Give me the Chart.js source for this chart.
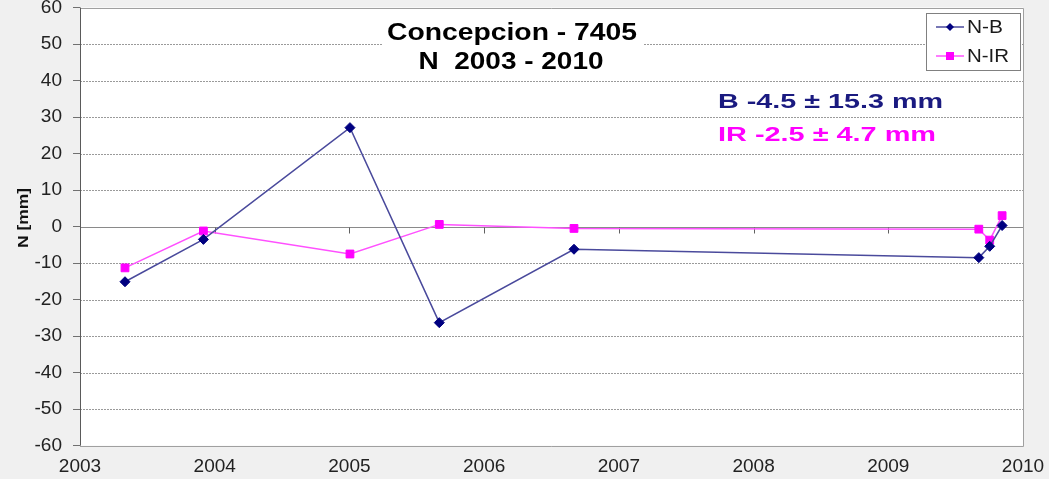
<!DOCTYPE html>
<html><head><meta charset="utf-8">
<script src="https://cdn.jsdelivr.net/npm/chart.js@4.4.1/dist/chart.umd.min.js"></script>
<style>html,body{margin:0;padding:0;background:#f0f0f0;overflow:hidden}#wrap{width:1049px;height:479px;position:relative}</style>
</head><body><div id="wrap"><canvas id="c" width="1049" height="479"></canvas></div>
<script>
// ---- data ----
const years = [2003.334, 2003.916, 2005.004, 2005.667, 2006.667, 2009.672, 2009.753, 2009.845];
const nB    = [-15.1, -3.5, 27.1, -26.3, -6.2, -8.5, -5.4, 0.3];
const nIR   = [-11.3, -1.2, -7.5, 0.6, -0.5, -0.7, -3.7, 3.0];
const xTicks = [2003, 2004, 2005, 2006, 2007, 2008, 2009, 2010];
const yTicks = [-60, -50, -40, -30, -20, -10, 0, 10, 20, 30, 40, 50, 60];
const seriesNames = ['N-B', 'N-IR'];
const titleLines = ['Concepcion - 7405', 'N  2003 - 2010'];
const statLines = ['B -4.5 \u00b1 15.3 mm', 'IR -2.5 \u00b1 4.7 mm'];
const yTitle = 'N [mm]';

const FONT = '"Liberation Sans", Arial, sans-serif';
const colB = '#000080', colBLine = '#4a4a9c';
const colIR = '#ff00ff', colIRLine = '#ff50ff';

function pts(xs, ys) { return xs.map((x, i) => ({ x: x, y: ys[i] })); }

function stretchText(ctx, text, x, y, font, color, targetW, align) {
  ctx.save();
  ctx.font = font;
  ctx.fillStyle = color;
  ctx.textBaseline = 'middle';
  ctx.textAlign = 'left';
  const w = ctx.measureText(text).width;
  const s = targetW ? targetW / w : 1;
  let x0 = x;
  if (align === 'center') x0 = x - (w * s) / 2;
  ctx.translate(x0, y);
  ctx.scale(s, 1);
  ctx.fillText(text, 0, 0);
  ctx.restore();
}

const decor = {
  id: 'decor',
  beforeDraw(chart) {
    const { ctx, chartArea: a, scales } = chart;
    ctx.save();
    ctx.fillStyle = '#f0f0f0';
    ctx.fillRect(0, 0, chart.width, chart.height);
    ctx.fillStyle = '#ffffff';
    ctx.fillRect(a.left, a.top, a.right - a.left, a.bottom - a.top);
    // dotted gridlines
    ctx.strokeStyle = '#9a9a9a';
    ctx.lineWidth = 1;
    ctx.setLineDash([2, 1]);
    yTicks.forEach(v => {
      if (v === 0 || v === yTicks[0] || v === yTicks[yTicks.length - 1]) return;
      const py = Math.round(scales.y.getPixelForValue(v)) + 0.5;
      ctx.beginPath(); ctx.moveTo(a.left, py); ctx.lineTo(a.right, py); ctx.stroke();
    });
    ctx.setLineDash([]);
    // zero line with year ticks
    const y0 = Math.round(scales.y.getPixelForValue(0)) + 0.5;
    ctx.strokeStyle = '#8a8a8a';
    ctx.beginPath(); ctx.moveTo(a.left, y0); ctx.lineTo(a.right, y0); ctx.stroke();
    ctx.strokeStyle = '#606060';
    xTicks.forEach(v => {
      const px = Math.round(scales.x.getPixelForValue(v)) + 0.5;
      ctx.beginPath(); ctx.moveTo(px, y0); ctx.lineTo(px, y0 + 6); ctx.stroke();
    });
    ctx.restore();
  },
  afterDraw(chart) {
    const { ctx, chartArea: a } = chart;
    ctx.save();
    // plot border
    ctx.strokeStyle = '#a0a0a0';
    ctx.lineWidth = 1;
    ctx.beginPath();
    ctx.moveTo(a.left, Math.round(a.top) + 0.5); ctx.lineTo(Math.round(a.right) + 0.5, Math.round(a.top) + 0.5);
    ctx.lineTo(Math.round(a.right) + 0.5, Math.round(a.bottom) + 0.5); ctx.lineTo(a.left, Math.round(a.bottom) + 0.5);
    ctx.stroke();
    ctx.strokeStyle = '#5a5a5a';
    ctx.beginPath(); ctx.moveTo(Math.round(a.left) + 0.5, a.top); ctx.lineTo(Math.round(a.left) + 0.5, a.bottom); ctx.stroke();

    // title box + title
    ctx.fillStyle = '#ffffff';
    ctx.fillRect(383, 14, 260, 62);
    stretchText(ctx, titleLines[0], 512, 34, 'bold 23px ' + FONT, '#000000', 250, 'center');
    stretchText(ctx, titleLines[1], 511, 63, 'bold 23px ' + FONT, '#000000', 185, 'center');

    // statistics
    stretchText(ctx, statLines[0], 718, 102, 'bold 21px ' + FONT, '#1a1a80', 225, 'left');
    stretchText(ctx, statLines[1], 718, 135, 'bold 21px ' + FONT, '#ff00ff', 218, 'left');

    // y-axis title (rotated)
    ctx.save();
    ctx.translate(24, 218);
    ctx.rotate(-Math.PI / 2);
    stretchText(ctx, yTitle, 0, 0, 'bold 14px ' + FONT, '#111111', 60, 'center');
    ctx.restore();

    // legend
    ctx.fillStyle = '#ffffff';
    ctx.fillRect(926, 13, 94, 57);
    ctx.strokeStyle = '#808080';
    ctx.strokeRect(926.5, 13.5, 94, 57);
    const items = [
      { y: 27, line: colBLine, pt: colB, style: 'rectRot' },
      { y: 56, line: colIRLine, pt: colIR, style: 'rect' }
    ];
    items.forEach((it, i) => {
      ctx.strokeStyle = it.line; ctx.lineWidth = 1.5;
      ctx.beginPath(); ctx.moveTo(936, it.y); ctx.lineTo(964, it.y); ctx.stroke();
      ctx.fillStyle = it.pt;
      ctx.beginPath();
      if (it.style === 'rect') { ctx.fillRect(946, it.y - 4, 8, 8); }
      else { ctx.moveTo(950, it.y - 4); ctx.lineTo(954, it.y); ctx.lineTo(950, it.y + 4); ctx.lineTo(946, it.y); ctx.closePath(); ctx.fill(); }
      stretchText(ctx, seriesNames[i], 967, it.y + 1, '18px ' + FONT, '#1a1a1a', i === 0 ? 36 : 42, 'left');
    });
    ctx.restore();
  }
};

new Chart(document.getElementById('c'), {
  type: 'scatter',
  data: {
    datasets: [
      { label: seriesNames[0], data: pts(years, nB), showLine: true, borderColor: colBLine, borderWidth: 1.5,
        pointStyle: 'rectRot', pointRadius: 5, pointBackgroundColor: colB, pointBorderColor: colB, pointBorderWidth: 1, order: 1 },
      { label: seriesNames[1], data: pts(years, nIR), showLine: true, borderColor: colIRLine, borderWidth: 1.5,
        pointStyle: 'rect', pointRadius: 5.5, pointBackgroundColor: colIR, pointBorderColor: colIR, pointBorderWidth: 1, order: 2 }
    ]
  },
  options: {
    responsive: false,
    animation: false,
    devicePixelRatio: 1,
    layout: { padding: { top: 7.5, right: 26, left: 0, bottom: 0 } },
    plugins: { legend: { display: false }, tooltip: { enabled: false } },
    scales: {
      x: {
        type: 'linear', min: xTicks[0], max: xTicks[xTicks.length - 1],
        afterBuildTicks: s => { s.ticks = xTicks.map(v => ({ value: v })); },
        afterFit: s => { s.height = 33.3; s.paddingLeft = 0; s.paddingRight = 0; },
        grid: { display: false, drawTicks: false },
        border: { display: false },
        ticks: { callback: v => String(v), font: { family: FONT, size: 19 }, color: '#222222', padding: 10, maxRotation: 0, autoSkip: false }
      },
      y: {
        min: yTicks[0], max: yTicks[yTicks.length - 1],
        afterBuildTicks: s => { s.ticks = yTicks.map(v => ({ value: v })); },
        afterFit: s => { s.width = 80; s.paddingTop = 0; s.paddingBottom = 0; },
        grid: { drawOnChartArea: false, drawTicks: true, tickLength: 7, tickColor: '#707070', color: '#707070' },
        border: { display: false },
        ticks: { callback: v => String(v), font: { family: FONT, size: 19 }, color: '#222222', padding: 11, autoSkip: false }
      }
    }
  },
  plugins: [decor]
});
</script>
</body></html>
